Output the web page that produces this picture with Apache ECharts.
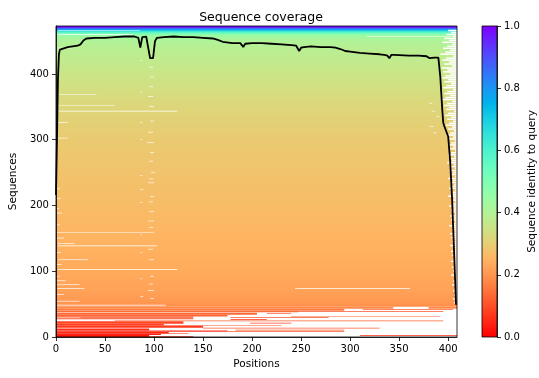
<!DOCTYPE html>
<html>
<head>
<meta charset="utf-8">
<title>Sequence coverage</title>
<script src="https://cdn.jsdelivr.net/npm/echarts@6/dist/echarts.min.js"></script>
<style>
  html, body { margin: 0; padding: 0; background: #fff; }
  #chart { width: 539px; height: 378px; }
</style>
</head>
<body>
<div id="chart"></div>
<script>
// alignment size
const alignLength = 409;
const seqCount = 473;

// axis ticks
const posTicks = [0, 50, 100, 150, 200, 250, 300, 350, 400];
const seqTicks = [0, 100, 200, 300, 400];
const identityTicks = [0, 0.2, 0.4, 0.6, 0.8, 1.0];

// full-length sequences (rows sorted by identity): identity read at these rows
const idRows = [46, 55, 70, 100, 150, 200, 250, 300, 350, 400, 440, 452, 458, 461, 464, 466, 468, 470, 471.5, 473];
const idValues = [0.19, 0.205, 0.22, 0.235, 0.25, 0.265, 0.278, 0.292, 0.318, 0.355, 0.39, 0.41, 0.44, 0.5, 0.6, 0.7, 0.8, 0.9, 1.0, 1.0];

// partial low-identity sequences at the bottom: [rowFrom, rowTo, posFrom, posTo, identity]
const partialRows = [
  [43, 46, 0, 344, 0.18], [43, 46, 380, 409, 0.18], [40, 43, 0, 294, 0.16],
  [41.5, 42.5, 313, 405, 0.12], [37.5, 39.5, 0, 247, 0.14], [38, 39, 247, 395, 0.11],
  [34, 37, 0, 205, 0.135], [35, 36, 215, 240, 0.1], [31, 34, 0, 175, 0.13],
  [31, 32, 240, 392, 0.12], [29.5, 31, 0, 140, 0.11], [29, 30, 178, 278, 0.11],
  [27, 28.5, 0, 140, 0.1], [28.5, 29.5, 25, 140, 0.1], [26, 27, 178, 215, 0.06],
  [24, 25, 60, 395, 0.13], [20, 24, 0, 130, 0.09], [20.5, 21.5, 198, 240, 0.09],
  [17, 20, 0, 110, 0.08], [17, 18, 110, 230, 0.1], [14, 17, 0, 150, 0.07],
  [13, 14, 150, 330, 0.12], [10, 13, 0, 95, 0.06], [10, 11, 183, 294, 0.11],
  [8, 10, 0, 175, 0.06], [8, 9, 175, 294, 0.12], [5, 8, 0, 115, 0.05],
  [5, 6, 115, 135, 0.1], [3, 5, 0, 107, 0.04], [1.5, 2.5, 310, 409, 0.06],
  [0, 3, 0, 95, 0.03], [0, 1, 95, 140, 0.08]
];

// gaps inside the full-length sequences: [rowFrom, rowTo, posFrom, posTo]
const gapRows = [
  [466, 467, 2, 86], [459.5, 460.5, 2, 78], [456.5, 457.5, 317, 405], [439, 440, 2, 16],
  [368, 369, 2, 41], [352, 353, 2, 60], [343, 344, 2, 124], [326, 327, 2, 12],
  [302, 303, 2, 12], [158, 159, 0, 100], [142, 143, 2, 19], [138, 139, 2, 103],
  [117, 118, 2, 33], [102, 103, 2, 124], [79, 80, 0, 24], [73, 74, 0, 29],
  [73, 74, 244, 361], [54, 55, 0, 24], [48, 49, 1, 112],
  [225, 226, 0, 4], [210, 211, 0, 5], [195, 196, 0, 3], [188, 189, 0, 6],
  [170, 171, 0, 4], [150, 151, 0, 8], [128, 129, 0, 5], [110, 111, 0, 6],
  [92, 93, 0, 4], [85, 86, 0, 10], [64, 65, 0, 8],
  [430, 431, 97, 100], [420, 421, 86, 88], [410, 411, 95, 99], [395, 396, 96, 100],
  [380, 381, 95, 99], [372, 373, 86, 88], [365, 366, 94, 99], [350, 351, 95, 100],
  [328, 329, 96, 100], [326, 327, 86, 88], [311, 312, 94, 99], [300, 301, 86, 88],
  [295, 296, 93, 100], [280, 281, 96, 100], [267, 268, 95, 99], [250, 251, 97, 101],
  [245, 246, 86, 88], [240, 241, 95, 99], [234, 235, 94, 100], [224, 225, 86, 89],
  [213, 214, 96, 100], [205, 206, 95, 99], [204, 205, 86, 88], [190, 191, 95, 100],
  [176, 177, 94, 100], [166, 167, 95, 99], [155, 156, 86, 88], [133, 134, 94, 99],
  [128, 129, 86, 88], [117, 118, 95, 100], [92, 93, 96, 100], [88, 89, 86, 88],
  [80, 81, 95, 99], [70, 71, 94, 100], [61, 62, 86, 89], [58, 59, 96, 100],
  [355, 356, 381, 384], [343, 344, 383, 387], [335, 336, 388, 391], [320, 321, 381, 385],
  [310, 311, 385, 388]
];

// ragged C-terminal ends: [first row of the group, first missing position]
const tailGaps = [
  [465, 400], [462, 403], [459, 398], [456, 405], [453, 396], [450, 401], [447, 394], [444, 404],
  [441, 399], [438, 395], [435, 402], [432, 397], [429, 392], [426, 405], [423, 398], [420, 394],
  [417, 401], [414, 396], [411, 404], [408, 393], [405, 399], [402, 395], [399, 402], [396, 397],
  [393, 394], [390, 400], [387, 396], [384, 403], [381, 398], [378, 395], [375, 405], [372, 399],
  [369, 396], [366, 402], [363, 397], [360, 394], [357, 404], [354, 399], [351, 396], [348, 401],
  [345, 398], [342, 406], [339, 400], [336, 397], [333, 403], [330, 399], [327, 405], [324, 401],
  [321, 398], [318, 404], [315, 400], [312, 406], [309, 402], [306, 399], [303, 405], [300, 401],
  [297, 407], [294, 403], [291, 400], [288, 405], [285, 402], [282, 407], [279, 403], [276, 400],
  [273, 406], [270, 402], [267, 404], [264, 399], [261, 406], [258, 403], [255, 407], [252, 401],
  [249, 405], [246, 403], [243, 407], [240, 400], [237, 405], [234, 402], [231, 406], [228, 404],
  [225, 401], [222, 407], [219, 403], [216, 405], [213, 400], [210, 406], [207, 403], [204, 407],
  [201, 404], [198, 401], [195, 406], [192, 403], [189, 405], [186, 407], [183, 402], [180, 405],
  [177, 403], [174, 407], [171, 404], [168, 401], [165, 406], [162, 404], [159, 407], [156, 402],
  [153, 405], [150, 403], [147, 407], [144, 404], [141, 406], [138, 402], [135, 405], [132, 407],
  [129, 403], [126, 406], [123, 404], [120, 407], [117, 405], [114, 403], [111, 406], [108, 407],
  [105, 404], [102, 406], [99, 405], [96, 407], [93, 403], [90, 406], [87, 407], [84, 405],
  [81, 406], [78, 404], [75, 407], [72, 406], [69, 405], [66, 407], [63, 406], [60, 408],
  [57, 405], [54, 407], [51, 406]
];

// number of sequences with a residue at each position
const coveragePos = [0, 1, 2, 3, 4, 8, 12, 17, 22, 25, 28, 31, 40, 50, 60, 70, 80, 84, 86, 87, 88, 92, 94, 96, 98, 99,
  101, 103, 110, 120, 130, 140, 150, 160, 165, 170, 180, 188, 191, 193, 200, 210, 220, 230, 240, 245, 248, 250, 253,
  260, 270, 280, 285, 290, 295, 300, 310, 320, 330, 335, 338, 340, 342, 345, 360, 370, 378, 381, 383, 386, 388, 390,
  391, 392, 393, 394, 395, 396, 398, 400, 402, 404, 405, 406, 407, 408];
const coverageCount = [216, 300, 392, 430, 437, 439, 441, 442, 443, 445, 451, 454, 455, 455, 456, 457, 457, 455, 440, 439, 456, 457, 455, 424, 421, 424,
  450, 455, 456, 457, 456, 456, 455, 454, 452, 449, 447, 447, 441, 446, 447, 447, 446, 445, 444, 443, 435, 440, 441,
  442, 441, 441, 440, 438, 435, 434, 432, 431, 430, 429, 428, 424, 429, 429, 428, 428, 427, 424, 426, 425, 427, 425,
  410, 395, 370, 345, 326, 321, 318, 305, 268, 210, 170, 130, 90, 49];

const tailHeight = 2.3;
const fontFamily = "'DejaVu Sans', sans-serif";

// rainbow_r colour map, identity 0 -> 1 in steps of 0.05
const rainbowStops = ['#ff0000', '#ff2814', '#ff4f28', '#ff743b', '#ff964f', '#ffb462', '#e6ce74', '#cce385',
  '#b3f296', '#99fca6', '#80ffb4', '#66fcc2', '#4df2ce', '#33e3da', '#1acee3', '#00b4ec', '#1a96f3', '#3374f8',
  '#4d4ffc', '#6628fe', '#8000ff'];

function hexRgb(hex) {
  const n = parseInt(hex.slice(1), 16);
  return [(n >> 16) & 255, (n >> 8) & 255, n & 255];
}

function identityColor(v) {
  const t = Math.max(0, Math.min(1, v)) * (rainbowStops.length - 1);
  const i = Math.min(Math.floor(t), rainbowStops.length - 2);
  const f = t - i;
  const a = hexRgb(rainbowStops[i]);
  const b = hexRgb(rainbowStops[i + 1]);
  const c = a.map((ch, k) => Math.round(ch + (b[k] - ch) * f));
  return `rgb(${c[0]},${c[1]},${c[2]})`;
}

// body gradient, top of the rect = offset 0
const bodyTop = idRows[idRows.length - 1];
const bodyBottom = idRows[0];
const bodyStops = idRows.map((r, i) => ({
  offset: (bodyTop - r) / (bodyTop - bodyBottom),
  color: identityColor(idValues[i])
})).reverse();

// cells: [posFrom, posTo, rowFrom, rowTo, identity or -1 for body]
const cellData = [[0, alignLength, bodyBottom, bodyTop, -1]].concat(
  partialRows.map((r) => [r[2], r[3], r[0], r[1], r[4]])
);
const gapData = gapRows.map((g) => [g[2], g[3], g[0], g[1]]).concat(
  tailGaps.map((t) => [t[1], alignLength, t[0], t[0] + tailHeight])
);

function cellRect(params, api) {
  const topLeft = api.coord([api.value(0), api.value(3)]);
  const bottomRight = api.coord([api.value(1), api.value(2)]);
  return echarts.graphic.clipRectByRect(
    { x: topLeft[0], y: topLeft[1], width: bottomRight[0] - topLeft[0], height: bottomRight[1] - topLeft[1] },
    { x: params.coordSys.x, y: params.coordSys.y, width: params.coordSys.width, height: params.coordSys.height }
  );
}

function renderCell(params, api) {
  const rect = cellRect(params, api);
  if (!rect) return;
  const id = api.value(4);
  const fill = id < 0
    ? new echarts.graphic.LinearGradient(0, 0, 0, 1, bodyStops)
    : identityColor(id);
  return { type: 'rect', shape: rect, style: { fill: fill } };
}

function renderGap(params, api) {
  const rect = cellRect(params, api);
  if (!rect) return;
  return { type: 'rect', shape: rect, style: { fill: '#ffffff' } };
}

const chart = echarts.init(document.getElementById('chart'));

const axisStyle = { color: '#000', width: 0.8 };
const labelStyle = { color: '#000', fontSize: 10, fontFamily: fontFamily };
const nameStyle = { color: '#000', fontSize: 10.5, fontFamily: fontFamily };

chart.setOption({
  animation: false,
  backgroundColor: '#fff',
  title: {
    text: 'Sequence coverage',
    left: 256,
    top: 6,
    textAlign: 'center',
    textStyle: { color: '#000', fontSize: 12.5, fontWeight: 'normal', fontFamily: fontFamily }
  },
  grid: [
    { left: 55, top: 26, width: 402, height: 311, show: true, z: 5, borderColor: '#000', borderWidth: 0.8, backgroundColor: 'transparent' },
    { left: 482, top: 26, width: 15, height: 311, show: true, z: 5, borderColor: '#000', borderWidth: 0.8, backgroundColor: 'transparent' }
  ],
  xAxis: [
    {
      gridIndex: 0, type: 'value', min: 0, max: alignLength, z: 5,
      name: 'Positions', nameLocation: 'middle', nameGap: 22, nameTextStyle: nameStyle,
      axisLine: { show: true, onZero: false, lineStyle: axisStyle },
      axisTick: { show: true, length: 4, customValues: posTicks, lineStyle: axisStyle },
      axisLabel: { customValues: posTicks, margin: 7, ...labelStyle },
      splitLine: { show: false }
    },
    { gridIndex: 1, type: 'category', data: ['identity'], show: false }
  ],
  yAxis: [
    {
      gridIndex: 0, type: 'value', min: 0, max: seqCount, z: 5,
      name: 'Sequences', nameLocation: 'middle', nameGap: 33, nameRotate: 90, nameTextStyle: nameStyle,
      axisLine: { show: true, onZero: false, lineStyle: axisStyle },
      axisTick: { show: true, length: 4, customValues: seqTicks, lineStyle: axisStyle },
      axisLabel: { customValues: seqTicks, margin: 7, ...labelStyle },
      splitLine: { show: false }
    },
    {
      gridIndex: 1, type: 'value', min: 0, max: 1, position: 'right', z: 5,
      name: 'Sequence identity to query', nameLocation: 'middle', nameGap: 30, nameRotate: 90, nameTextStyle: nameStyle,
      axisLine: { show: true, lineStyle: axisStyle },
      axisTick: { show: true, length: 4, customValues: identityTicks, lineStyle: axisStyle },
      axisLabel: { customValues: identityTicks, margin: 7, formatter: (v) => v.toFixed(1), ...labelStyle },
      splitLine: { show: false }
    }
  ],
  series: [
    {
      name: 'alignment', type: 'custom', xAxisIndex: 0, yAxisIndex: 0,
      renderItem: renderCell, data: cellData, silent: true
    },
    {
      name: 'gaps', type: 'custom', xAxisIndex: 0, yAxisIndex: 0,
      renderItem: renderGap, data: gapData, silent: true
    },
    {
      name: 'coverage', type: 'line', xAxisIndex: 0, yAxisIndex: 0,
      data: coveragePos.map((p, i) => [p, coverageCount[i]]),
      showSymbol: false, z: 4,
      lineStyle: { color: '#000', width: 1.8 }
    },
    {
      name: 'colorbar', type: 'bar', xAxisIndex: 1, yAxisIndex: 1,
      data: [1], barWidth: '100%', silent: true,
      itemStyle: {
        color: new echarts.graphic.LinearGradient(0, 1, 0, 0,
          rainbowStops.map((c, i) => ({ offset: i / (rainbowStops.length - 1), color: c })))
      }
    }
  ]
});
</script>
</body>
</html>
